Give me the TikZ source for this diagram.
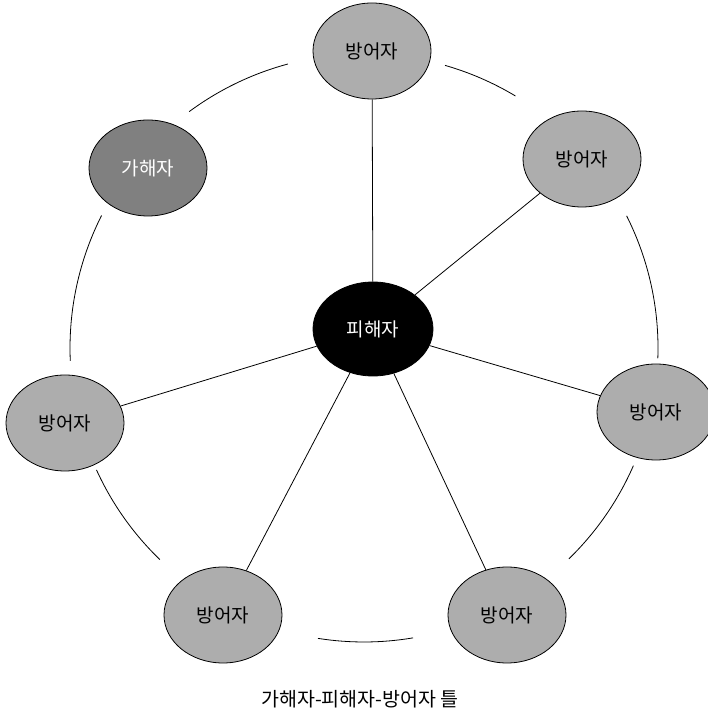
\documentclass[tikz,border=0pt]{standalone}
\usepackage{fontspec}
\setmainfont{Noto Sans CJK KR}
\usetikzlibrary{shapes.geometric}
\definecolor{defgray}{RGB}{173,173,173}
\definecolor{aggray}{RGB}{128,128,128}
\begin{document}
\begin{tikzpicture}[x=1pt,y=1pt,
  person/.style={ellipse, draw=black, line width=0.8pt, minimum width=118pt, minimum height=96pt, inner sep=0pt, font=\fontsize{19}{21}\selectfont},
  defender/.style={person, fill=defgray, text=black},
  aggressor/.style={person, fill=aggray, text=white},
  victim/.style={person, fill=black, text=white, minimum width=120pt, minimum height=94pt},
  spoke/.style={draw=black, line width=0.8pt},
  ring/.style={draw=black, line width=0.8pt}]
\useasboundingbox (0,0) rectangle (708,712);
\coordinate (O) at (364,364);
% ring arcs
\draw[ring] ([shift={(126.5:294)}]O) arc[start angle=126.5, end angle=105, radius=294];
\draw[ring] ([shift={(74:294)}]O) arc[start angle=74, end angle=59, radius=294];
\draw[ring] ([shift={(26.7:294)}]O) arc[start angle=26.7, end angle=-2, radius=294];
\draw[ring] ([shift={(-23.6:294)}]O) arc[start angle=-23.6, end angle=-45.8, radius=294];
\draw[ring] ([shift={(-80.4:294)}]O) arc[start angle=-80.4, end angle=-99, radius=294];
\draw[ring] ([shift={(-134:294)}]O) arc[start angle=-134, end angle=-155.5, radius=294];
\draw[ring] ([shift={(182.5:294)}]O) arc[start angle=182.5, end angle=153.2, radius=294];
% nodes
\node[defender] (T) at (372,661) {방어자};
\node[defender] (TR) at (582,553) {방어자};
\node[defender] (R) at (656,300) {방어자};
\node[defender] (BR) at (507,97) {방어자};
\node[defender] (BL) at (223,97) {방어자};
\node[defender] (L) at (65,289) {방어자};
\node[aggressor] (A) at (148,544) {가해자};
\node[victim] (C) at (373,383) {피해자};
% spokes
\draw[spoke] (C) -- (T);
\draw[spoke] (C) -- (TR);
\draw[spoke] (C) -- (R);
\draw[spoke] (C) -- (BR);
\draw[spoke] (C) -- (BL);
\draw[spoke] (C) -- (L);
% caption
\node[font=\fontsize{19.5}{21}\selectfont] (cap) at (360,13) {가해자-피해자-방어자 틀};
\end{tikzpicture}
\end{document}
